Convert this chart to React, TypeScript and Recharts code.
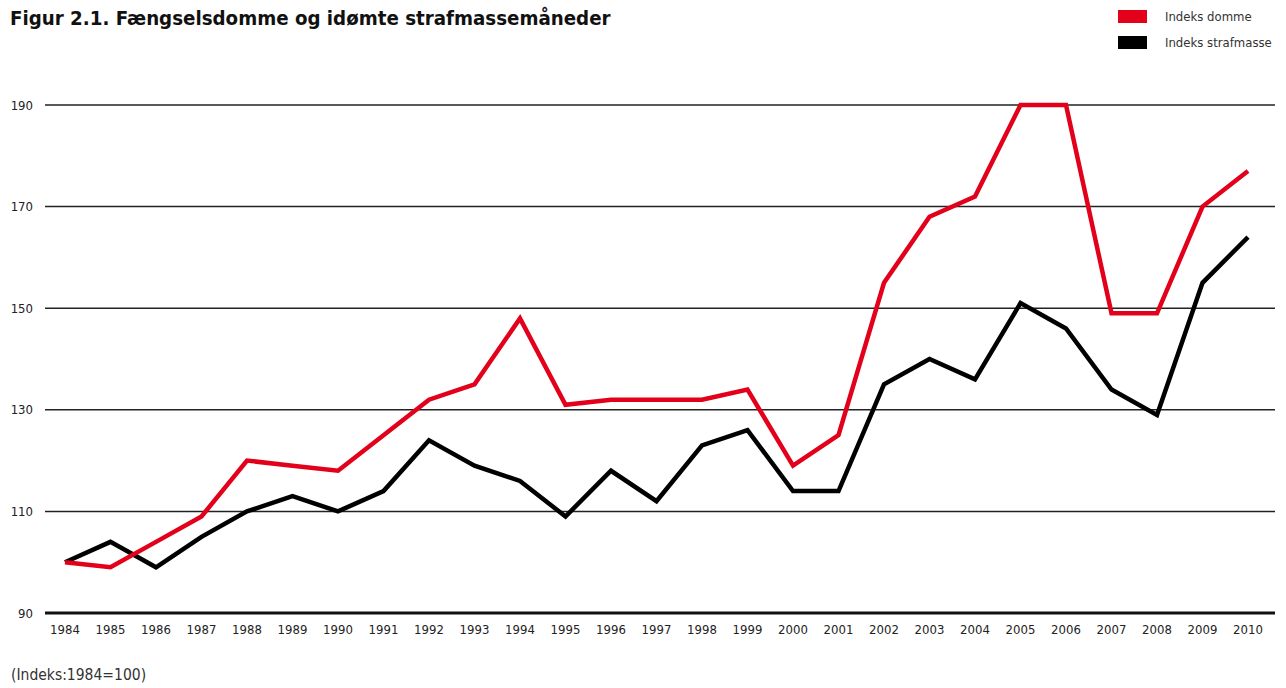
import React from 'react';
import { LineChart, Line, XAxis, YAxis, CartesianGrid } from 'recharts';

const years = [
  '1984', '1985', '1986', '1987', '1988', '1989', '1990', '1991', '1992', '1993', '1994', '1995', '1996',
  '1997', '1998', '1999', '2000', '2001', '2002', '2003', '2004', '2005', '2006', '2007', '2008', '2009', '2010',
];
const indeksDomme = [
  100, 99, 104, 109, 120, 119, 118, 125, 132, 135, 148, 131, 132,
  132, 132, 134, 119, 125, 155, 168, 172, 190, 190, 149, 149, 170, 177,
];
const indeksStrafmasse = [
  100, 104, 99, 105, 110, 113, 110, 114, 124, 119, 116, 109, 118,
  112, 123, 126, 114, 114, 135, 140, 136, 151, 146, 134, 129, 155, 164,
];
const yTicks = [90, 110, 130, 150, 170, 190];
const seriesNames = ['Indeks domme', 'Indeks strafmasse'];

const RED = '#e2001a';
const FONT = '"DejaVu Sans Condensed", "Open Sans", sans-serif';
const legendColors = [RED, '#000'];

const data = years.map((year, i) => ({
  year,
  domme: indeksDomme[i],
  strafmasse: indeksStrafmasse[i],
}));

export default function App() {
  return (
    <div style={{ position: 'absolute', left: 0, top: 0, width: 1286, height: 688, background: '#fff', fontFamily: FONT }}>
      <div style={{ position: 'absolute', left: 10, top: 6, fontSize: 20.3, fontWeight: 'bold', color: '#111' }}>
        Figur 2.1. Fængselsdomme og idømte strafmassemåneder
      </div>

      {/* legend, top right */}
      <div style={{ position: 'absolute', left: 1118, top: 3, fontSize: 13, color: '#333' }}>
        {seriesNames.map((name, i) => (
          <div key={name} style={{ display: 'flex', alignItems: 'center', height: 26 }}>
            <span style={{ width: 29, height: 13, background: legendColors[i], display: 'inline-block', marginRight: 18 }} />
            <span>{name}</span>
          </div>
        ))}
      </div>

      <LineChart width={1286} height={688} data={data} margin={{ top: 105, right: 11, bottom: 45, left: 0 }}>
        <CartesianGrid horizontal vertical={false} stroke="#222" strokeWidth={1.5} />
        <XAxis
          dataKey="year"
          height={30}
          padding={{ left: 20, right: 27 }}
          axisLine={{ stroke: '#111', strokeWidth: 3 }}
          tickLine={false}
          tickSize={0}
          tickMargin={12}
          interval={0}
          tick={{ fontSize: 13, fill: '#222', fontFamily: FONT }}
        />
        <YAxis
          width={45}
          domain={[90, 190]}
          ticks={yTicks}
          axisLine={false}
          tickLine={false}
          tickSize={0}
          tickMargin={12}
          tick={{ fontSize: 13, fill: '#222', fontFamily: FONT }}
        />
        <Line
          type="linear"
          dataKey="strafmasse"
          name={seriesNames[1]}
          stroke="#000"
          strokeWidth={4.5}
          dot={false}
          isAnimationActive={false}
        />
        <Line
          type="linear"
          dataKey="domme"
          name={seriesNames[0]}
          stroke={RED}
          strokeWidth={4.5}
          dot={false}
          isAnimationActive={false}
        />
      </LineChart>
      <div style={{ position: 'absolute', left: 11, top: 666, fontSize: 15.5, color: '#333' }}>(Indeks:1984=100)</div>
    </div>
  );
}
